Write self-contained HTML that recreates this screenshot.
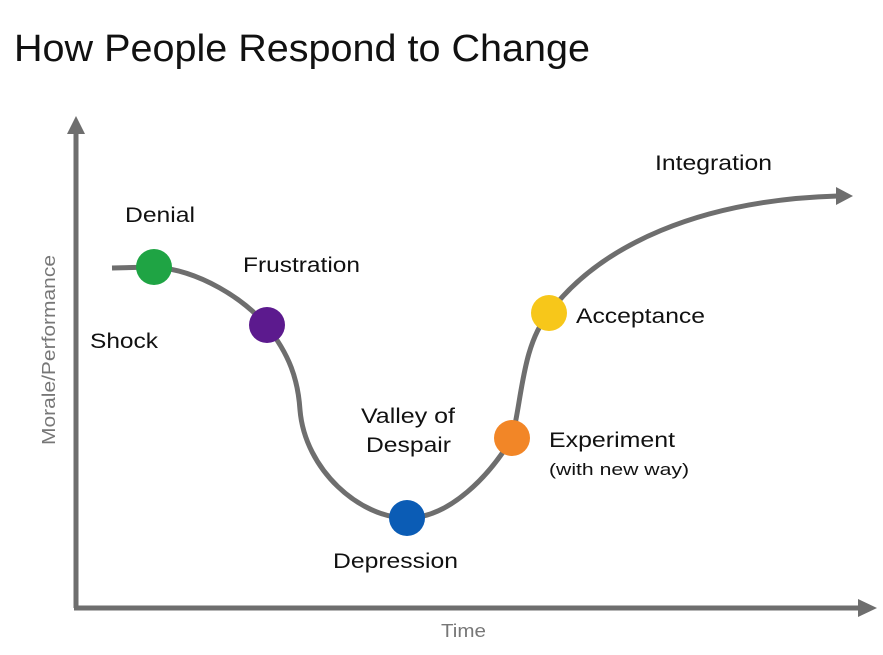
<!DOCTYPE html>
<html><head><style>
body{margin:0;background:#fff;width:883px;height:650px;overflow:hidden;font-family:"Liberation Sans",sans-serif}
</style></head><body>
<svg width="883" height="650" xmlns="http://www.w3.org/2000/svg" font-family="Liberation Sans, sans-serif">
<text x="14" y="61" font-size="38" fill="#111" textLength="576" lengthAdjust="spacingAndGlyphs">How People Respond to Change</text>
<line x1="76" y1="608" x2="76" y2="132" stroke="#6e6e6e" stroke-width="5"/>
<polygon points="67,134 85,134 76,116" fill="#6e6e6e"/>
<line x1="74" y1="608" x2="860" y2="608" stroke="#6e6e6e" stroke-width="5"/>
<polygon points="858,599 858,617 877,608" fill="#6e6e6e"/>
<path d="M112,268 L154,267 C200,270 245,300 266,325 C290,355 298,380 300,410 C305,470 360,518 407,518 C450,518 490,475 512,438 C522,400 522,345 549,313 C600,245 700,200 838,196" fill="none" stroke="#6e6e6e" stroke-width="5"/>
<polygon points="836,187 836,205 853,196" fill="#6e6e6e"/>
<circle cx="154" cy="267" r="18" fill="#1fa444"/>
<circle cx="267" cy="325" r="18" fill="#5c1a8e"/>
<circle cx="407" cy="518" r="18" fill="#0b5cb5"/>
<circle cx="512" cy="438" r="18" fill="#f28627"/>
<circle cx="549" cy="313" r="18" fill="#f7c71a"/>
<g font-size="21" fill="#111">
<text x="125" y="222" textLength="70" lengthAdjust="spacingAndGlyphs">Denial</text>
<text x="243" y="272" textLength="117" lengthAdjust="spacingAndGlyphs">Frustration</text>
<text x="90" y="348" textLength="68" lengthAdjust="spacingAndGlyphs">Shock</text>
<text x="361" y="423" textLength="94" lengthAdjust="spacingAndGlyphs">Valley of</text>
<text x="366" y="452" textLength="85" lengthAdjust="spacingAndGlyphs">Despair</text>
<text x="333" y="568" textLength="125" lengthAdjust="spacingAndGlyphs">Depression</text>
<text x="549" y="447" textLength="126" lengthAdjust="spacingAndGlyphs">Experiment</text>
<text x="576" y="323" textLength="129" lengthAdjust="spacingAndGlyphs">Acceptance</text>
<text x="655" y="170" textLength="117" lengthAdjust="spacingAndGlyphs">Integration</text>
</g>
<text x="549" y="475" font-size="17" fill="#111" textLength="140" lengthAdjust="spacingAndGlyphs">(with new way)</text>
<text x="441" y="637" font-size="18" fill="#777" textLength="45" lengthAdjust="spacingAndGlyphs">Time</text>
<text transform="translate(55,445) rotate(-90)" font-size="18" fill="#777" textLength="190" lengthAdjust="spacingAndGlyphs">Morale/Performance</text>
</svg>
</body></html>
